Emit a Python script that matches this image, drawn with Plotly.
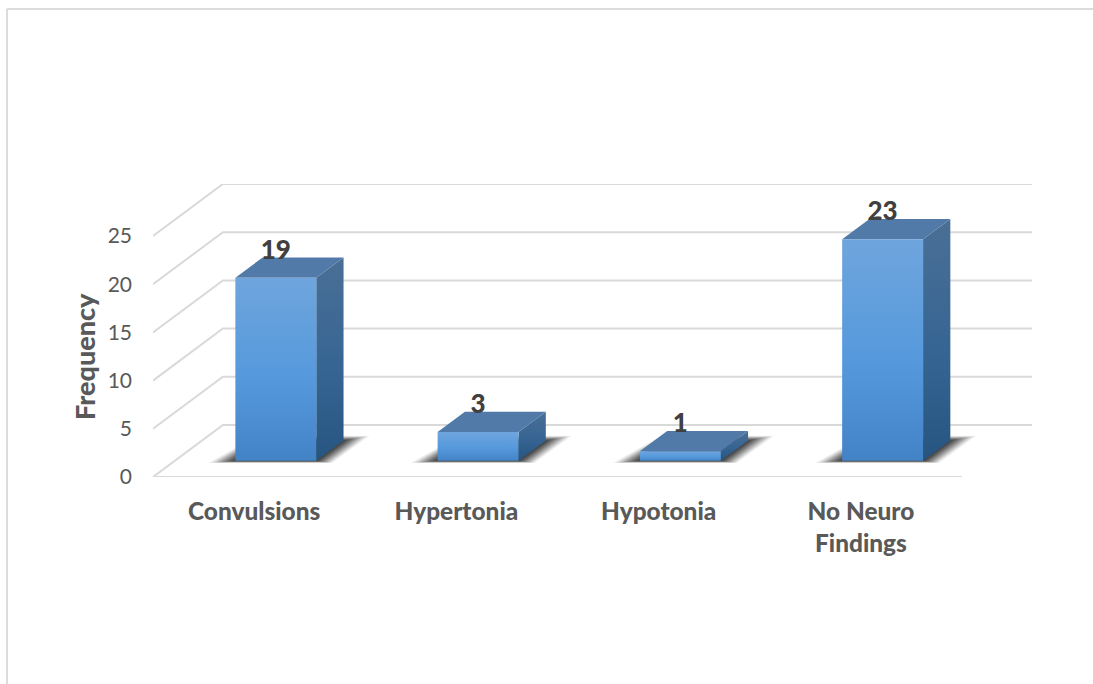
import plotly.graph_objects as go

categories = ["Convulsions", "Hypertonia", "Hypotonia", "No Neuro<br>Findings"]
frequency = [19, 3, 1, 23]
y_ticks = [0, 5, 10, 15, 20, 25]

# Oblique projection of the box: a unit of depth moves a point right and up.
DEPTH_X = 0.3457
DEPTH_Y = 5.40
BAR_GAP = 0.30
BAR_NEAR = 0.31
BAR_FAR = 0.70

GRID = "#d9d9d9"
TEXT = "#595959"
FONT = "Lato"
SHADOW_LAYERS = 14


def project(x, depth, height):
    return x + depth * DEPTH_X, height + depth * DEPTH_Y


def polygon(corners):
    pts = [project(*c) for c in corners + corners[:1]]
    return [p[0] for p in pts], [p[1] for p in pts]


def face(corners, **style):
    xs, ys = polygon(corners)
    return go.Scatter(x=xs, y=ys, mode="lines", fill="toself", line=dict(width=0),
                      hoverinfo="skip", showlegend=False, **style)


def gridline(xs, ys, width=2):
    return go.Scatter(x=xs, y=ys, mode="lines", line=dict(color=GRID, width=width),
                      hoverinfo="skip", showlegend=False, cliponaxis=False)


fig = go.Figure()

# Walls and floor
n = len(categories)
for v in y_ticks:
    back_x, back_y = project(0, 1, v)
    end_x, _ = project(n, 1, v)
    fig.add_trace(gridline([0, back_x, end_x], [v, back_y, back_y]))
fig.add_trace(gridline([0, n], [0, 0]))

# Bars: soft floor shadow, then side, top and front faces
for i, v in enumerate(frequency):
    x0 = i + BAR_GAP
    x1 = i + 1 - BAR_GAP
    for step in range(SHADOW_LAYERS):
        k = 1 - step / SHADOW_LAYERS
        alpha = 0.045 + 0.12 * step / (SHADOW_LAYERS - 1)
        fig.add_trace(face(
            [(x0 - 0.135 * k, BAR_NEAR, -0.22 * k), (x1 + 0.08 * k, BAR_NEAR, -0.22 * k),
             (x1 + 0.13 * k, BAR_FAR, 0.5 * k), (x0 - 0.03 * k, BAR_FAR, 0.5 * k)],
            fillcolor=f"rgba(25,25,25,{alpha:.3f})"))
    fig.add_trace(face(
        [(x1, BAR_NEAR, 0), (x1, BAR_FAR, 0), (x1, BAR_FAR, v), (x1, BAR_NEAR, v)],
        fillgradient=dict(type="vertical",
                          colorscale=[[0, "#275581"], [0.45, "#366593"], [1, "#4a6f96"]])))
    fig.add_trace(face(
        [(x0, BAR_NEAR, v), (x1, BAR_NEAR, v), (x1, BAR_FAR, v), (x0, BAR_FAR, v)],
        fillcolor="#527aa8"))
    fig.add_trace(face(
        [(x0, BAR_NEAR, 0), (x1, BAR_NEAR, 0), (x1, BAR_NEAR, v), (x0, BAR_NEAR, v)],
        fillgradient=dict(type="vertical",
                          colorscale=[[0, "#4283c6"], [0.45, "#5599dc"], [1, "#6fa5dd"]])))

# Value labels sit above the front face of each bar
label_x = [i + 0.5 + BAR_NEAR * DEPTH_X for i in range(n)]
label_y = [v + BAR_NEAR * DEPTH_Y + 2.65 for v in frequency]
fig.add_trace(go.Scatter(
    x=label_x, y=label_y, mode="text", text=[str(v) for v in frequency],
    textposition="middle center", cliponaxis=False,
    textfont=dict(family=FONT, size=26, color="#404040", weight=900),
    hoverinfo="skip", showlegend=False))

# Chart frame: top and left edges only
L, T = 153, 184
W, H = 879, 293
frame = dict(color="#dcdcdc", width=2)
fig.add_shape(type="line", xref="paper", yref="paper", layer="below", line=frame,
              x0=(7 - L) / W, x1=(1093 - L) / W, y0=1 + (T - 9) / H, y1=1 + (T - 9) / H)
fig.add_shape(type="line", xref="paper", yref="paper", layer="below", line=frame,
              x0=(7 - L) / W, x1=(7 - L) / W, y0=1 + (T - 9) / H, y1=1 - (684 - T) / H)

# Axis title is centred on the lower part of the wall, left of the tick labels
fig.add_annotation(
    text="Frequency", textangle=-90, xref="paper", yref="paper", showarrow=False,
    x=(84 - L) / W, y=1 - (357 - T) / H, xanchor="center", yanchor="middle",
    font=dict(family=FONT, size=27, color=TEXT, weight=900))

fig.update_layout(
    width=1093, height=684,
    margin=dict(l=L, r=1093 - L - W, t=T, b=684 - T - H),
    paper_bgcolor="white", plot_bgcolor="white", showlegend=False,
    xaxis=dict(range=[0, n + DEPTH_X], showgrid=False, zeroline=False, showline=False,
               tickmode="array", tickvals=[i + 0.5 for i in range(n)], ticktext=categories,
               ticks="", ticklabelstandoff=18,
               tickfont=dict(family=FONT, size=24.4, color=TEXT, weight=900)),
    yaxis=dict(range=[0, 25 + DEPTH_Y], showgrid=False, zeroline=False, showline=False,
               tickmode="array", tickvals=y_ticks, ticks="", ticklabelstandoff=20,
               tickfont=dict(family=FONT, size=21, color=TEXT)),
)

fig.write_html("out.html")
